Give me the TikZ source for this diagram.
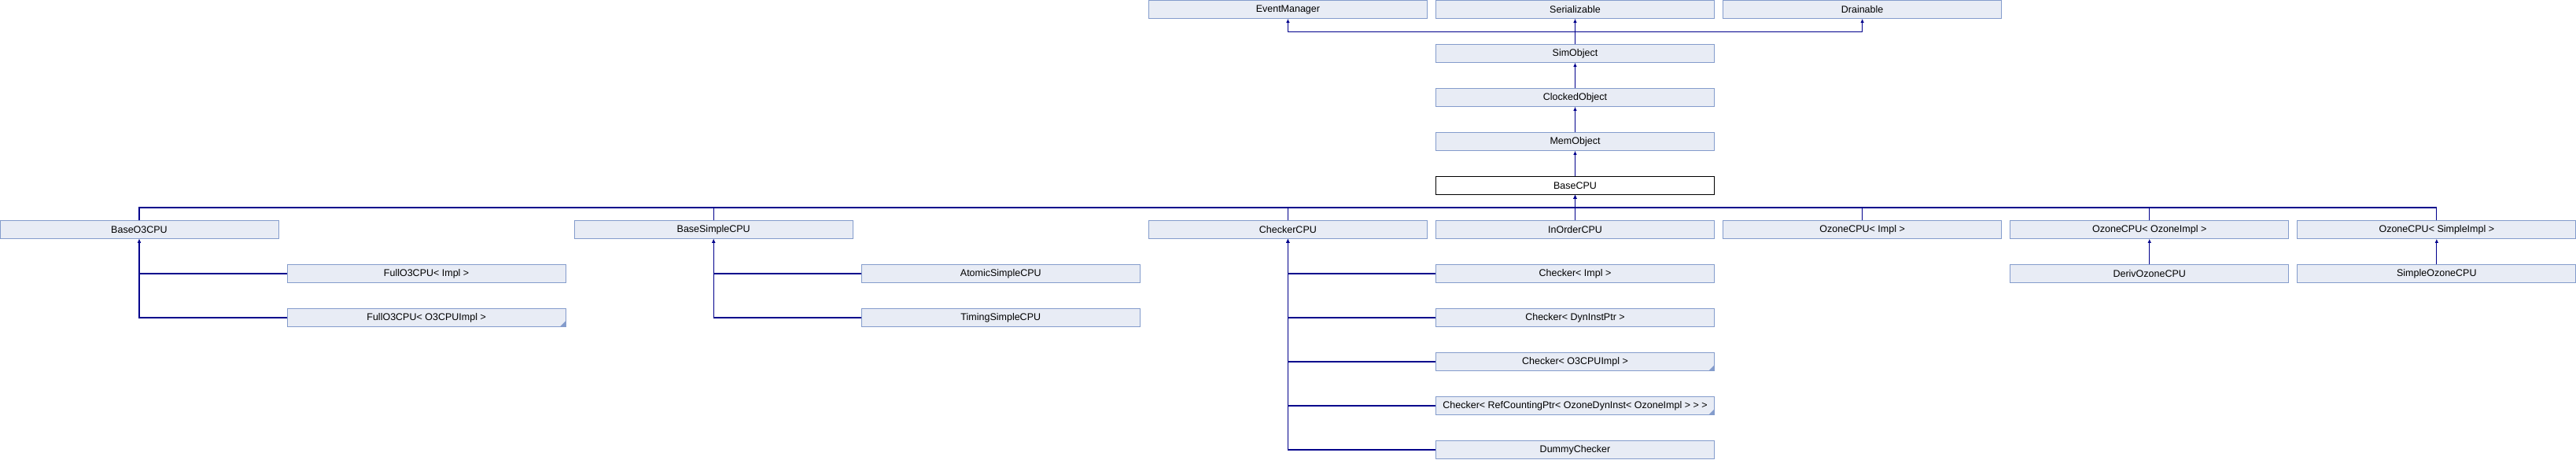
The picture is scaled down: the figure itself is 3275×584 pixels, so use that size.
\documentclass[tikz,border=0pt]{standalone}
\usepackage{fontspec}
\setmainfont{Liberation Sans}
\usepackage{xcolor}
\usepackage{tikz}
\usetikzlibrary{arrows.meta,positioning,calc}

\definecolor{boxfill}{HTML}{E8ECF5}
\definecolor{boxline}{HTML}{849CCC}
\definecolor{lnk}{HTML}{00008C}

\begin{document}
\begin{tikzpicture}[x=1pt, y=1pt, node distance=56pt and 365.1pt, on grid,
    cls/.style={rectangle, draw=boxline, line width=1pt, fill=boxfill, minimum width=354pt, minimum height=22.6pt, inner sep=0pt, font=\fontsize{12.5pt}{14pt}\selectfont},
    cur/.style={cls, draw=black, fill=white},
    trunc/.style={path picture={\fill[boxline] (path picture bounding box.south east) -- ++(-7pt,0) -- ++(7pt,7pt) -- cycle;}},
    line/.style={draw=lnk, line width=1.1pt, -{Latex[length=5pt,width=4.5pt]}}]

    \useasboundingbox (0,0) rectangle (3275,-584);

    % top of the tree
    \node [cls] (ser) at (2002.5,-12) {Serializable};
    \node [cls, left=of ser] (evm) {EventManager};
    \node [cls, right=of ser] (drn) {Drainable};
    \node [cls, below=of ser] (simobj) {SimObject};
    \node [cls, below=of simobj] (clk) {ClockedObject};
    \node [cls, below=of clk] (mem) {MemObject};
    \node [cur, below=of mem] (basecpu) {BaseCPU};

    % direct subclasses of BaseCPU
    \node [cls, below=of basecpu] (inorder) {InOrderCPU};
    \node [cls, left=of inorder] (checker) {CheckerCPU};
    \node [cls, left=730.2pt of checker] (basesimple) {BaseSimpleCPU};
    \node [cls, left=730.2pt of basesimple] (baseo3) {BaseO3CPU};
    \node [cls, right=of inorder] (ozimpl) {OzoneCPU< Impl >};
    \node [cls, right=of ozimpl] (ozozone) {OzoneCPU< OzoneImpl >};
    \node [cls, right=of ozozone] (ozsimple) {OzoneCPU< SimpleImpl >};

    % leaves
    \node [cls, below right=of baseo3] (fullimpl) {FullO3CPU< Impl >};
    \node [cls, trunc, below=of fullimpl] (fullo3) {FullO3CPU< O3CPUImpl >};
    \node [cls, below right=of basesimple] (atomic) {AtomicSimpleCPU};
    \node [cls, below=of atomic] (timing) {TimingSimpleCPU};
    \node [cls, below right=of checker] (chkimpl) {Checker< Impl >};
    \node [cls, below=of chkimpl] (chkdyn) {Checker< DynInstPtr >};
    \node [cls, trunc, below=of chkdyn] (chko3) {Checker< O3CPUImpl >};
    \node [cls, trunc, below=of chko3] (chkref) {Checker< RefCountingPtr< OzoneDynInst< OzoneImpl > > >};
    \node [cls, below=of chkref] (dummy) {DummyChecker};
    \node [cls, below=of ozozone] (deriv) {DerivOzoneCPU};
    \node [cls, below=of ozsimple] (simpleoz) {SimpleOzoneCPU};

    \coordinate (topbar) at (0,-40.3);
    \coordinate (cpubar) at (0,-264);

    \draw [line] (simobj.north) -- (ser.south);
    \draw [line] (simobj.north) -- (simobj.north |- topbar) -| (evm.south);
    \draw [line] (simobj.north) -- (simobj.north |- topbar) -| (drn.south);
    \draw [line] (clk) -- (simobj);
    \draw [line] (mem) -- (clk);
    \draw [line] (basecpu) -- (mem);

    \foreach \c in {baseo3, basesimple, checker, inorder, ozimpl, ozozone, ozsimple}
        \draw [line] (\c.north) -- (\c.north |- cpubar) -| (basecpu.south);

    \foreach \c in {fullimpl, fullo3}
        \draw [line] (\c.west) -| (baseo3.south);
    \foreach \c in {atomic, timing}
        \draw [line] (\c.west) -| (basesimple.south);
    \foreach \c in {chkimpl, chkdyn, chko3, chkref, dummy}
        \draw [line] (\c.west) -| (checker.south);
    \draw [line] (deriv) -- (ozozone);
    \draw [line] (simpleoz) -- (ozsimple);
\end{tikzpicture}
\end{document}
